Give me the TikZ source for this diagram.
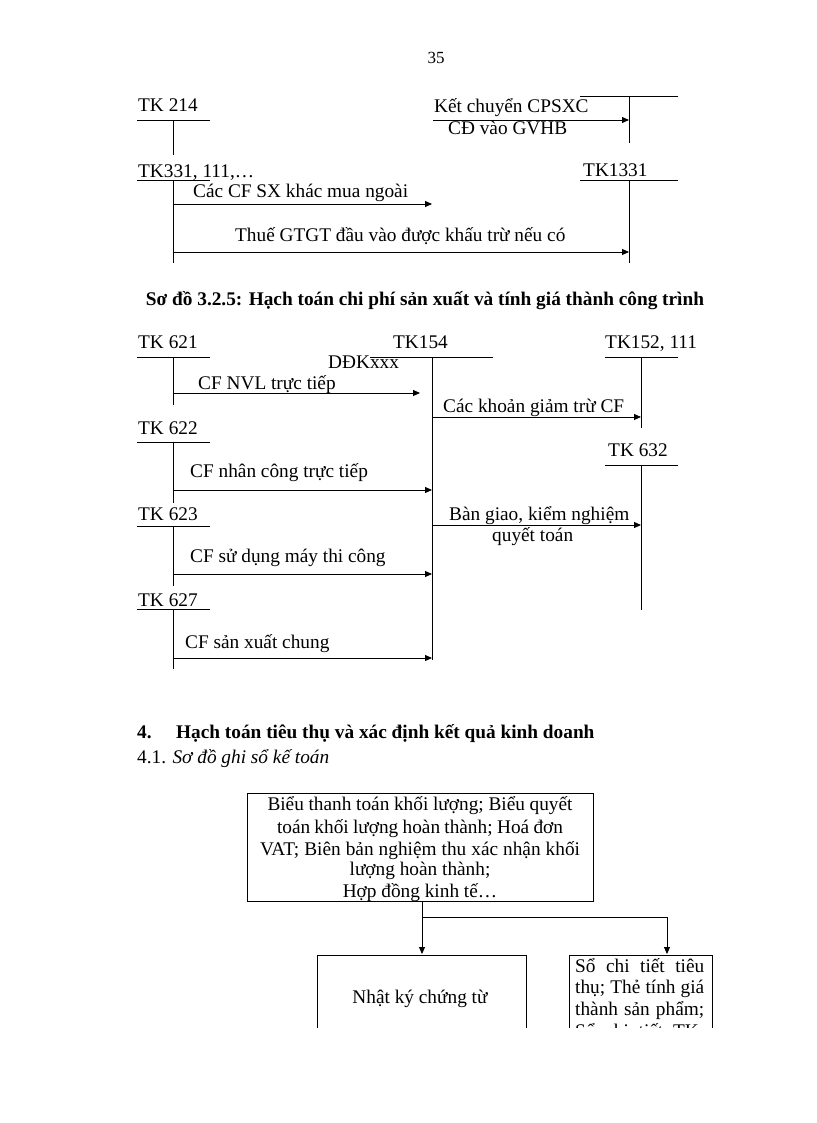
\documentclass[tikz,border=0pt]{standalone}
\usepackage{fontspec}
\setmainfont{Liberation Serif}
\usetikzlibrary{arrows.meta}
\newcommand{\jl}[2]{\makebox[#1pt][s]{#2}}
\begin{document}
\begin{tikzpicture}[x=1pt,y=-1pt,
  font=\fontsize{19.3pt}{23pt}\selectfont,
  lbl/.style={anchor=base west,inner sep=0pt},
  cen/.style={anchor=base,inner sep=0pt},
  tline/.style={line width=0.9pt},
  arr/.style={line width=0.9pt,-{Triangle[length=7pt,width=6pt]}},
  boxst/.style={draw,line width=0.9pt,anchor=north west,inner sep=0pt}]
\useasboundingbox (0,0) rectangle (816,1123);
\node[cen,font=\fontsize{17pt}{20pt}\selectfont] (pg) at (436,64) {35};
% ---------- part 1 ----------
\node[lbl] (t214) at (138,112) {TK 214};
\coordinate (h214a) at (137,120); \coordinate (h214b) at (210,120);
\coordinate (v214) at (173,120); \coordinate (v214e) at (173,155);
\draw[tline] (h214a) -- (h214b); \draw[tline] (v214) -- (v214e);
\coordinate (hgva) at (580,96); \coordinate (hgvb) at (678,96);
\coordinate (vgv) at (629,96); \coordinate (vgve) at (629,143);
\draw[tline] (hgva) -- (hgvb); \draw[tline] (vgv) -- (vgve);
\node[lbl] (kc1) at (434,113) {Kết chuyển CPSXC};
\node[lbl] (kc2) at (448,135) {CĐ vào GVHB};
\coordinate (kcs) at (433,120);
\draw[arr] (kcs) -- (vgv |- kcs);
\node[lbl] (t331) at (138,178) {TK331, 111,…};
\coordinate (h331a) at (137,180); \coordinate (h331b) at (210,180);
\coordinate (v331) at (173,180); \coordinate (v331e) at (173,263);
\draw[tline] (h331a) -- (h331b); \draw[tline] (v331) -- (v331e);
\node[lbl] (t1331) at (583,177) {TK1331};
\coordinate (h1331a) at (580,180); \coordinate (h1331b) at (678,180);
\coordinate (v1331) at (629,180); \coordinate (v1331e) at (629,263);
\draw[tline] (h1331a) -- (h1331b); \draw[tline] (v1331) -- (v1331e);
\node[lbl] (l1) at (193,198) {Các CF SX khác mua ngoài};
\coordinate (y1) at (0,204); \coordinate (e1) at (432,204);
\draw[arr] (v331 |- y1) -- (e1);
\node[lbl] (l2) at (235,241) {Thuế GTGT đầu vào được khấu trừ nếu có};
\coordinate (y2) at (0,252);
\draw[arr] (v331 |- y2) -- (v1331 |- y2);
% ---------- title ----------
\node[cen,font=\fontsize{19.3pt}{23pt}\selectfont\bfseries] (title) at (425,305)
  {Sơ đồ 3.2.5: Hạch toán chi phí sản xuất và tính giá thành công trình};
% ---------- part 2 ----------
\node[lbl] (t621) at (138,348) {TK 621};
\coordinate (h621a) at (137,357); \coordinate (h621b) at (210,357);
\coordinate (v621) at (173,357); \coordinate (v621e) at (173,405);
\draw[tline] (h621a) -- (h621b); \draw[tline] (v621) -- (v621e);
\node[lbl] (t154) at (393,348) {TK154};
\coordinate (h154a) at (370,357); \coordinate (h154b) at (493,357);
\coordinate (v154) at (432,357); \coordinate (v154e) at (432,660);
\draw[tline] (h154a) -- (h154b); \draw[tline] (v154) -- (v154e);
\node[lbl] (ddk) at (328,368) {DĐKxxx};
\node[lbl] (t152) at (605,348) {TK152, 111};
\coordinate (h152a) at (605,357); \coordinate (h152b) at (678,357);
\coordinate (v152) at (641,357); \coordinate (v152e) at (641,428);
\draw[tline] (h152a) -- (h152b); \draw[tline] (v152) -- (v152e);
\node[lbl] (m1) at (198,389) {CF NVL trực tiếp};
\coordinate (y3) at (0,393); \coordinate (e3) at (420,393);
\draw[arr] (v621 |- y3) -- (e3);
\node[lbl] (m2) at (443,412) {Các khoản giảm trừ CF};
\coordinate (y4) at (0,417);
\draw[arr] (v154 |- y4) -- (v152 |- y4);
\node[lbl] (t622) at (138,434) {TK 622};
\coordinate (h622a) at (137,442); \coordinate (h622b) at (210,442);
\coordinate (v622) at (173,442); \coordinate (v622e) at (173,503);
\draw[tline] (h622a) -- (h622b); \draw[tline] (v622) -- (v622e);
\node[lbl] (t632) at (608,456) {TK 632};
\coordinate (h632a) at (605,465); \coordinate (h632b) at (678,465);
\coordinate (v632) at (641,465); \coordinate (v632e) at (641,610);
\draw[tline] (h632a) -- (h632b); \draw[tline] (v632) -- (v632e);
\node[lbl] (m3) at (190,477) {CF nhân công trực tiếp};
\coordinate (y5) at (0,490);
\draw[arr] (v622 |- y5) -- (v154 |- y5);
\node[lbl] (t623) at (138,520) {TK 623};
\coordinate (h623a) at (137,526); \coordinate (h623b) at (210,526);
\coordinate (v623) at (173,526); \coordinate (v623e) at (173,586);
\draw[tline] (h623a) -- (h623b); \draw[tline] (v623) -- (v623e);
\node[lbl] (m4) at (449,520) {Bàn giao, kiểm nghiệm};
\node[lbl] (m4b) at (492,541) {quyết toán};
\coordinate (y6) at (0,525);
\draw[arr] (v154 |- y6) -- (v632 |- y6);
\node[lbl] (m5) at (190,562) {CF sử dụng máy thi công};
\coordinate (y7) at (0,574);
\draw[arr] (v623 |- y7) -- (v154 |- y7);
\node[lbl] (t627) at (138,606) {TK 627};
\coordinate (h627a) at (137,609); \coordinate (h627b) at (210,609);
\coordinate (v627) at (173,609); \coordinate (v627e) at (173,669);
\draw[tline] (h627a) -- (h627b); \draw[tline] (v627) -- (v627e);
\node[lbl] (m6) at (185,648) {CF sản xuất chung};
\coordinate (y8) at (0,658);
\draw[arr] (v627 |- y8) -- (v154 |- y8);
% ---------- section 4 ----------
\node[lbl,font=\fontsize{19.3pt}{23pt}\selectfont\bfseries] (s4n) at (137,738) {4.};
\node[lbl,font=\fontsize{19.3pt}{23pt}\selectfont\bfseries] (s4) at (176,738)
  {Hạch toán tiêu thụ và xác định kết quả kinh doanh};
\node[lbl] (s41) at (137,763) {4.1. \textit{Sơ đồ ghi sổ kế toán}};
\node[boxst,minimum width=346pt,minimum height=108pt] (src) at (247,793) {};
\node[cen] (b1) at (420,810) {\jl{305}{Biểu thanh toán khối lượng; Biểu quyết}};
\node[cen] (b2) at (420,833) {\jl{286}{toán khối lượng hoàn thành; Hoá đơn}};
\node[cen] (b3) at (420,855) {\jl{320}{VAT; Biên bản nghiệm thu xác nhận khối}};
\node[cen] (b4) at (420,875) {lượng hoàn thành;};
\node[cen] (b5) at (420,897) {Hợp đồng kinh tế…};
\begin{scope}
\clip (0,0) rectangle (816,1027);
\node[boxst,minimum width=209pt,minimum height=120pt] (nk) at (317,955) {};
\node[boxst,minimum width=143pt,minimum height=120pt] (sct) at (569,955) {};
\node[cen] (nkt) at (420,1003) {Nhật ký chứng từ};
\node[lbl] (r1) at (575,972) {\jl{129}{Sổ chi tiết tiêu}};
\node[lbl] (r2) at (575,993) {\jl{129}{thụ; Thẻ tính giá}};
\node[lbl] (r3) at (575,1015) {\jl{129}{thành sản phẩm;}};
\node[lbl] (r4) at (575,1037) {\jl{129}{Sổ chi tiết TK;}};
\end{scope}
\coordinate (br) at (422,917);
\coordinate (nkin) at (422,954);
\coordinate (sctin) at (667,954);
\draw[tline] (src.south -| br) -- (br);
\draw[arr] (br) -- (nkin);
\draw[arr] (br) -| (sctin);
\end{tikzpicture}
\end{document}
